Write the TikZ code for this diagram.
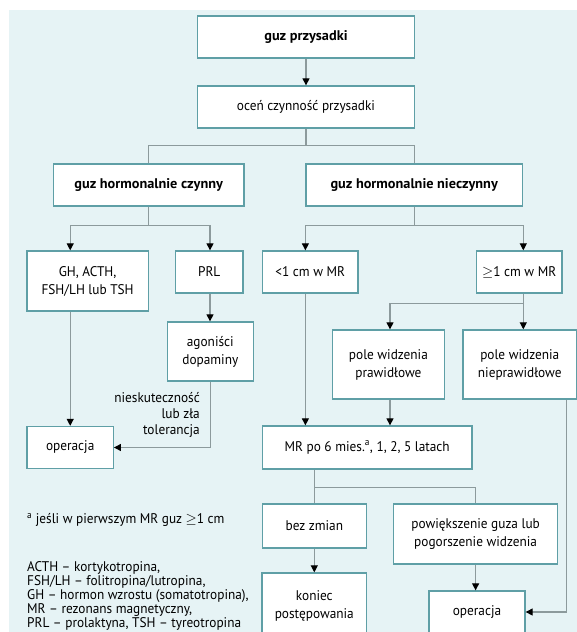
\documentclass[tikz,border=0pt]{standalone}
\usepackage{fontspec}
\setmainfont{PT Sans}[FakeStretch=0.95,BoldFeatures={FakeStretch=1.02}]
\usetikzlibrary{arrows.meta}
\definecolor{tlo}{HTML}{E6F3F5}
\definecolor{ramka}{HTML}{5F9FA6}
\definecolor{linia}{HTML}{8C9A9C}

\begin{document}
\begin{tikzpicture}[x=1pt,y=-1pt,
    box/.style={draw=ramka,fill=white,line width=1.3pt,align=center,inner sep=0pt,font=\fontsize{14}{18}\selectfont},
    head/.style={box,font=\fontsize{14}{18}\selectfont\bfseries},
    dims/.style 2 args={minimum width=#1pt,minimum height=#2pt},
    link/.style={draw=linia,line width=1.1pt},
    arr/.style={link,-{Triangle[length=7pt,width=7pt,color=black]}},
    note/.style={inner sep=0pt,font=\fontsize{14}{16}\selectfont}]
    \useasboundingbox (0,0) rectangle (577,632);
    \fill[tlo] (9,10) rectangle (577,632);
    \clip (0,0) rectangle (577,632);

    \node[head, dims={217}{42}] (guz) at (306,37) {guz przysadki};
    \node[box, dims={217}{42}] (ocen) at (306,107) {oceń czynność przysadki};
    \node[head, dims={190.6}{42}] (czyn) at (148.7,185) {guz hormonalnie czynny};
    \node[head, dims={216.5}{42}] (nczyn) at (414.2,185) {guz hormonalnie nieczynny};
    \node[box, dims={121.4}{60}] (gh) at (87.6,281) {GH, ACTH,\\FSH/LH lub TSH};
    \node[box, dims={67.4}{42}] (prl) at (209.2,272) {PRL};
    \node[box, dims={95.7}{42}] (mniej) at (310.2,272) {<1 cm w MR};
    \node[box, dims={85.5}{42}] (wiecej) at (519.2,272) {$\geq$1 cm w MR};
    \node[box, dims={85.8}{59}] (agon) at (210.3,351.5) {agoniści\\dopaminy};
    \node[box, dims={112.2}{69}] (pole) at (388.4,364.5) {pole widzenia\\prawidłowe};
    \node[box, dims={113.5}{69}] (npole) at (519.75,364.5) {pole widzenia\\nieprawidłowe};
    \node[box, dims={86.2}{42}] (op) at (70.2,447.5) {operacja};
    \node[box, dims={209.8}{43}] (mr) at (367.2,447.5) {MR po 6 mies.\textsuperscript{a}, 1, 2, 5 latach};
    \node[box, dims={103.8}{44}] (bez) at (314.3,526) {bez zmian};
    \node[box, dims={163.8}{60}] (pow) at (475.6,534) {powiększenie guza lub\\pogorszenie widzenia};
    \node[box, dims={104.5}{65}] (kon) at (314.3,605.5) {koniec\\postępowania};
    \node[box, dims={96}{42}] (opb) at (477,612) {operacja};

    \node[note, align=right, anchor=east] (nieskut) at (200,415) {nieskuteczność\\lub zła\\tolerancja};
    \node[note, anchor=west] (przypis) at (27,520) {\textsuperscript{a} jeśli w pierwszym MR guz $\geq$1 cm};
    \node[note, align=left, anchor=north west, font=\fontsize{14}{14}\selectfont] (skroty) at (27,561)
        {ACTH – kortykotropina,\\FSH/LH – folitropina/lutropina,\\GH – hormon wzrostu (somatotropina),\\MR – rezonans magnetyczny,\\PRL – prolaktyna, TSH – tyreotropina};

    % gora
    \draw[arr] (guz) -- (ocen);
    \draw[link] (ocen.south) -- ++(0,17) coordinate (r1) -| (czyn.north);
    \draw[link] (r1) -| (nczyn.north);

    % guz czynny
    \draw[link] (czyn.south) -- ++(0,19) coordinate (r2);
    \draw[arr] (r2) -| (op.north |- gh.north);
    \draw[arr] (r2) -| ([xshift=0.8pt]prl.north);
    \draw[arr] (op.north |- gh.south) -- (op.north);
    \draw[arr] ([xshift=0.8pt]prl.south) -- ([xshift=0.8pt]prl.south |- agon.north);
    \draw[arr] (agon.south) |- (op.east);

    % guz nieczynny
    \draw[link] (nczyn.south) -- ++(0,19) coordinate (r3);
    \draw[arr] (r3) -| ([xshift=-4.8pt]mniej.north);
    \draw[arr] (r3) -| ([xshift=4.1pt]wiecej.north);
    \draw[arr] ([xshift=-4.8pt]mniej.south) -- ([xshift=-4.8pt]mniej.south |- mr.north);
    \draw[link] ([xshift=4.1pt]wiecej.south) -- ++(0,10) coordinate (r4);
    \draw[arr] (r4) -| ([xshift=1.6pt]pole.north);
    \draw[arr] (r4) -- (r4 |- npole.north);
    \draw[arr] ([xshift=1.6pt]pole.south) -- ([xshift=1.6pt]pole.south |- mr.north);
    \draw[arr] ([xshift=47pt]npole.south) |- (opb.east);

    % kontrola MR
    \path (bez.north |- mr.south) ++(0,18) coordinate (r5);
    \draw[link] (bez.north |- mr.south) -- (bez.north);
    \draw[link] (r5) -| (pow.north);
    \draw[arr] (bez) -- (kon);
    \draw[arr] (pow.south) -- (pow.south |- opb.north);
\end{tikzpicture}
\end{document}
